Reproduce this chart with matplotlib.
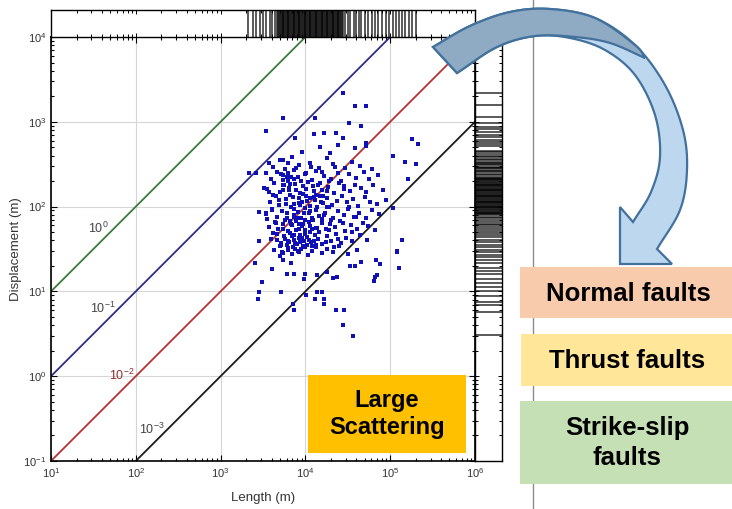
import numpy as np
import matplotlib
matplotlib.use('Agg')
import matplotlib.pyplot as plt
from matplotlib.patches import Rectangle, Polygon
from matplotlib.transforms import Affine2D

plt.rcParams['font.family'] = ['Liberation Sans', 'DejaVu Sans']
plt.rcParams['mathtext.default'] = 'regular'

# ---------------- data (log10 of length and displacement in m) ----------------
upper_outliers = [(4.44, 3.34), (4.58, 3.19), (4.72, 3.19), (3.73, 3.04), (4.11, 3.04), (3.53, 2.89),
                  (3.88, 2.81), (4.10, 2.86), (4.22, 2.87), (4.36, 2.87), (4.44, 2.81), (4.52, 2.99),
                  (4.65, 2.95), (4.72, 2.75), (5.26, 2.80), (5.33, 2.74), (5.03, 2.60), (5.17, 2.53),
                  (5.31, 2.50), (5.21, 2.33), (5.03, 1.98), (5.14, 1.61), (5.08, 1.48), (3.45, 1.94),
                  (3.45, 1.59), (3.33, 2.40), (3.42, 2.40), (3.53, 2.40), (3.57, 2.51), (3.73, 2.55),
                  (3.79, 2.51), (3.96, 2.64), (4.17, 2.70), (4.29, 2.63), (4.39, 2.73), (4.59, 2.69),
                  (4.71, 2.72)]
lower_outliers = [(3.41, 1.33), (3.61, 1.26), (3.49, 1.11), (3.45, 0.99), (3.44, 0.91), (3.71, 0.99),
                  (3.78, 1.21), (3.87, 1.21), (3.98, 1.15), (3.99, 1.21), (3.85, 0.85), (3.87, 0.78),
                  (4.01, 0.96), (4.11, 0.91), (4.14, 0.99), (4.20, 0.99), (4.22, 0.91), (4.22, 0.85),
                  (4.36, 0.78), (4.45, 0.78), (4.44, 0.60), (4.56, 0.47), (4.26, 1.23), (4.33, 1.16),
                  (4.37, 1.17), (4.53, 1.30), (4.59, 1.30), (4.65, 1.35), (4.81, 1.12), (4.82, 1.17),
                  (4.85, 1.19), (4.83, 1.37), (4.88, 1.32), (5.10, 1.28), (5.08, 1.47), (4.14, 1.19),
                  (3.83, 1.33), (3.73, 1.37), (3.70, 1.42)]
left_edge = [(3.51, 2.22), (3.57, 2.17), (3.62, 2.14), (3.53, 1.92), (3.55, 1.85), (3.61, 1.96),
             (3.65, 1.81), (3.62, 1.69), (3.67, 1.61), (3.71, 1.55)]
band_a = [(3.62, 2.47), (3.70, 2.55), (3.76, 2.44), (3.84, 2.58), (3.93, 2.49), (4.05, 2.52), (4.16, 2.46),
          (4.25, 2.57), (4.33, 2.50), (4.47, 2.45), (4.55, 2.53), (4.64, 2.48), (4.78, 2.44)]
band_b = [(3.60, 2.33), (3.66, 2.41), (3.74, 2.37), (3.79, 2.30), (3.86, 2.43), (3.91, 2.35), (3.99, 2.39),
          (4.08, 2.31), (4.13, 2.42), (4.22, 2.36), (4.30, 2.33), (4.38, 2.40), (4.42, 2.30), (4.51, 2.38),
          (4.60, 2.34), (4.69, 2.41), (4.75, 2.32), (4.86, 2.37)]
band_c = [(3.55, 2.21), (3.63, 2.28), (3.70, 2.17), (3.75, 2.25), (3.81, 2.19), (3.88, 2.27), (3.94, 2.16),
          (3.97, 2.24), (4.03, 2.29), (4.10, 2.18), (4.15, 2.26), (4.20, 2.20), (4.27, 2.23), (4.34, 2.16),
          (4.40, 2.28), (4.46, 2.21), (4.53, 2.18), (4.58, 2.26), (4.66, 2.22), (4.72, 2.17), (4.80, 2.25),
          (4.91, 2.20)]
band_d = [(3.58, 2.05), (3.65, 2.12), (3.69, 2.02), (3.77, 2.09), (3.82, 2.14), (3.86, 2.03), (3.92, 2.10),
          (3.96, 2.06), (4.01, 2.13), (4.06, 2.01), (4.11, 2.08), (4.17, 2.12), (4.21, 2.04), (4.26, 2.10),
          (4.31, 2.02), (4.37, 2.07), (4.43, 2.13), (4.49, 2.05), (4.56, 2.09), (4.62, 2.01), (4.70, 2.11),
          (4.76, 2.06), (4.84, 2.03), (4.95, 2.08)]
band_e = [(3.54, 1.91), (3.61, 1.97), (3.67, 1.88), (3.72, 1.95), (3.78, 1.86), (3.83, 1.99), (3.87, 1.90),
          (3.91, 1.94), (3.95, 1.87), (3.99, 1.98), (4.04, 1.92), (4.08, 1.86), (4.12, 1.96), (4.16, 1.89),
          (4.23, 1.93), (4.28, 1.99), (4.33, 1.87), (4.39, 1.95), (4.45, 1.90), (4.50, 1.97), (4.57, 1.88),
          (4.63, 1.93), (4.71, 1.86), (4.79, 1.96), (4.87, 1.91)]
band_f = [(3.57, 1.76), (3.64, 1.82), (3.68, 1.73), (3.73, 1.79), (3.76, 1.84), (3.80, 1.71), (3.84, 1.78),
          (3.89, 1.83), (3.93, 1.74), (3.97, 1.80), (4.00, 1.72), (4.05, 1.77), (4.09, 1.84), (4.14, 1.75),
          (4.19, 1.81), (4.24, 1.73), (4.29, 1.79), (4.35, 1.76), (4.41, 1.83), (4.47, 1.71), (4.54, 1.78),
          (4.61, 1.74), (4.68, 1.81), (4.74, 1.77), (4.82, 1.72)]
band_g = [(3.60, 1.62), (3.66, 1.68), (3.71, 1.57), (3.75, 1.65), (3.79, 1.59), (3.82, 1.69), (3.86, 1.61),
          (3.90, 1.56), (3.94, 1.66), (3.98, 1.60), (4.02, 1.64), (4.07, 1.58), (4.11, 1.67), (4.15, 1.62),
          (4.20, 1.56), (4.25, 1.65), (4.30, 1.60), (4.36, 1.68), (4.42, 1.57), (4.48, 1.63), (4.55, 1.59),
          (4.64, 1.66), (4.73, 1.61)]
band_h = [(3.63, 1.49), (3.70, 1.53), (3.74, 1.45), (3.79, 1.51), (3.84, 1.44), (3.88, 1.50), (3.93, 1.47),
          (3.97, 1.54), (4.03, 1.43), (4.08, 1.48), (4.13, 1.52), (4.19, 1.45), (4.26, 1.50), (4.32, 1.46),
          (4.40, 1.53), (4.50, 1.44), (4.61, 1.49)]
core = [(3.81, 1.58), (3.85, 1.52), (3.89, 1.72), (3.92, 1.63), (3.95, 1.50), (3.99, 1.68), (4.02, 1.55),
        (4.06, 1.70), (4.10, 1.60), (3.83, 1.80), (3.87, 1.66), (3.91, 1.48), (3.96, 1.77), (4.00, 1.52),
        (4.04, 1.82), (3.78, 1.55), (3.94, 1.58), (4.08, 1.53), (4.12, 1.75), (3.86, 1.88)]
core2 = [(3.72, 1.47), (3.76, 1.62), (3.80, 1.49), (3.84, 1.65), (3.88, 1.57), (3.92, 1.79), (3.96, 1.63),
         (4.00, 1.84), (4.04, 1.61), (4.08, 1.74), (4.12, 1.55), (4.16, 1.70), (4.20, 1.85), (4.24, 1.58),
         (4.28, 1.72), (3.74, 1.74), (3.78, 1.92), (3.82, 1.83), (3.86, 1.97), (3.90, 1.87), (3.94, 2.02),
         (3.98, 1.92), (4.02, 2.07), (4.06, 1.95), (4.10, 2.11), (4.14, 1.99), (4.18, 2.05), (4.22, 1.90),
         (4.26, 2.00), (4.30, 1.84), (3.69, 2.08), (3.73, 2.19), (3.77, 2.03), (3.81, 2.22), (3.85, 2.11),
         (3.89, 2.20), (3.93, 2.04), (3.97, 2.15), (4.01, 2.21), (4.05, 2.10), (4.09, 2.24), (4.13, 2.14),
         (4.17, 2.28), (4.21, 2.12), (4.25, 2.18), (3.83, 2.35), (3.89, 2.45), (3.95, 2.30), (4.01, 2.40),
         (4.07, 2.47), (4.19, 2.41), (4.35, 2.47), (4.28, 2.30), (4.45, 2.24), (4.52, 2.00), (4.60, 1.88),
         (4.44, 1.81), (4.38, 1.62), (4.55, 1.70), (4.34, 1.52)]
upper_cluster = [(3.71, 2.38), (3.74, 2.31), (3.78, 2.35), (3.82, 2.27), (3.86, 2.33), (3.73, 2.25), (3.80, 2.40)]

# marginal rug data (log10)
rug_log_length = [3.32, 3.38, 3.42, 3.47, 3.50, 3.54, 3.58, 3.61, 3.64, 3.66,
                  3.68, 3.70, 3.72, 3.73, 3.75, 3.77, 3.79, 3.80, 3.82, 3.84, 3.85, 3.87, 3.89, 3.91,
                  3.92, 3.94, 3.96, 3.97, 3.99, 4.01, 4.03, 4.04, 4.06, 4.08, 4.09, 4.11, 4.13, 4.15,
                  4.16, 4.18, 4.20, 4.21, 4.23, 4.25, 4.27, 4.28, 4.30, 4.32, 4.33, 4.35, 4.37, 4.39,
                  4.40, 4.42, 4.44, 3.69, 3.71, 3.74, 3.76, 3.78, 3.81, 3.83, 3.86, 3.88, 3.90, 3.93,
                  3.95, 3.98, 4.00, 4.02, 4.05, 4.07, 4.10, 4.12, 4.14, 4.17, 4.19, 4.22, 4.24, 4.26,
                  4.29, 4.31, 4.34, 4.36, 4.38, 4.41, 4.43, 4.47, 4.50, 4.53, 4.57, 4.60, 4.63, 4.66,
                  4.70, 4.74, 4.78, 4.82, 4.86, 4.90, 4.95, 4.99, 5.03, 5.07, 5.10, 5.14, 5.18, 5.22,
                  5.26, 5.31]
rug_log_displacement = [3.34, 3.20, 3.06, 2.99, 2.94, 2.92, 2.88, 2.85, 2.82, 2.79, 2.76, 2.74, 2.71,
                        2.66, 2.64, 2.62, 2.60, 2.58, 2.56, 2.53, 2.51, 2.49, 2.47, 2.45, 2.43, 2.41, 2.39,
                        2.35, 2.33, 2.32, 2.30, 2.28, 2.27, 2.25, 2.23, 2.22, 2.20, 2.18, 2.17, 2.15, 2.13,
                        2.12, 2.10, 2.08, 2.07, 2.05, 2.03, 2.02, 2.00, 1.98, 1.97, 1.95, 1.93, 1.92, 1.90,
                        1.88, 2.34, 2.31, 2.29, 2.26, 2.24, 2.21, 2.19, 2.16, 2.14, 2.11, 2.09, 2.06,
                        2.04, 2.01, 1.99, 1.96, 1.94, 1.91, 2.55, 2.50, 2.46, 2.42, 2.37,
                        1.86, 1.84, 1.82, 1.80, 1.78, 1.76, 1.73, 1.71, 1.69, 1.66, 1.64, 1.61,
                        1.58, 1.55, 1.52, 1.49, 1.46, 1.43, 1.40, 1.37,
                        1.33, 1.28, 1.24, 1.20, 1.15, 1.10, 1.05, 1.00, 0.95, 0.88, 0.84, 0.76, 0.49]

ratios = [1, 0.1, 0.01, 0.001]
ratio_labels = [r'$\mathdefault{10^{0}}$', r'$\mathdefault{10^{-1}}$', r'$\mathdefault{10^{-2}}$', r'$\mathdefault{10^{-3}}$']
ratio_colors = ['#3c7a3c', '#2c2c86', '#b83232', '#1a1a1a']
ratio_label_pos = [(36, 56), (41, 6.3), (69, 1.03), (155, 0.235)]
ratio_label_colors = ['#444444', '#444444', '#8a3030', '#444444']

xlim = (10, 1e6)
ylim = (0.1, 1e4)

groups = [upper_outliers, lower_outliers, left_edge, band_a, band_b, band_c, band_d,
          band_e, band_f, band_g, band_h, core, core2, upper_cluster]
pts = np.array([p for g in groups for p in g])
length = 10 ** pts[:, 0]
displacement = 10 ** pts[:, 1]

# ---------------- figure ----------------
W, H = 732, 509
fig = plt.figure(figsize=(W / 100, H / 100), dpi=100)
pix = Affine2D().scale(1 / W, -1 / H).translate(0, 1) + fig.transFigure

ax = fig.add_axes([51 / W, 1 - 461 / H, 424 / W, 424 / H])
axt = fig.add_axes([51 / W, 1 - 37 / H, 424 / W, 27 / H])
axr = fig.add_axes([475 / W, 1 - 461 / H, 27 / W, 424 / H])

ax.set_xscale('log'); ax.set_yscale('log')
ax.set_xlim(*xlim); ax.set_ylim(*ylim)
ax.grid(True, which='major', color='#d6d6d6', lw=0.8)
ax.set_axisbelow(True)

Ls = np.array(xlim)
for r, c in zip(ratios, ratio_colors):
    ax.plot(Ls, r * Ls, color=c, lw=1.3, zorder=2)
for lab, (lx, ly), c in zip(ratio_labels, ratio_label_pos, ratio_label_colors):
    ax.text(lx, ly, lab, color=c, fontsize=9, ha='center', va='center')

ax.scatter(length, displacement, marker='s', s=12, color='#1010b8', linewidths=0, zorder=3)

ax.tick_params(which='both', direction='in', top=True, right=True, colors='black',
               labelcolor='#333333', labelsize=8, width=0.8)
ax.tick_params(which='major', length=4)
ax.tick_params(which='minor', length=2)
for s in ax.spines.values():
    s.set_linewidth(1.2)
ax.set_xlabel('Length (m)', fontsize=9.5, color='#333333', labelpad=9)
ax.set_ylabel('Displacement (m)', fontsize=9.5, color='#333333', labelpad=1)

# top rug
axt.set_xscale('log'); axt.set_xlim(*xlim); axt.set_ylim(0, 1)
axt.vlines(10 ** np.array(rug_log_length), 0, 1, color='black', alpha=0.7, lw=1.3)
axt.tick_params(which='both', direction='in', top=True, bottom=True, labelbottom=False, left=False,
                labelleft=False, width=0.7)
axt.tick_params(which='major', length=3); axt.tick_params(which='minor', length=2)
axt.set_yticks([])

# right rug
axr.set_yscale('log'); axr.set_ylim(*ylim); axr.set_xlim(0, 1)
axr.hlines(10 ** np.array(rug_log_displacement), 0, 1, color='black', alpha=0.7, lw=1.3)
axr.tick_params(which='both', direction='in', left=True, right=True, labelleft=False, bottom=False,
                labelbottom=False, width=0.7)
axr.tick_params(which='major', length=3); axr.tick_params(which='minor', length=2)
axr.set_xticks([])
for a in (axt, axr):
    for s in a.spines.values():
        s.set_linewidth(1.0)

# ---------------- annotations ----------------
fig.add_artist(plt.Line2D([533, 533], [0, H], transform=pix, color='#8c8c8c', lw=1, zorder=0))

fig.add_artist(Rectangle((308, 375), 158, 78, transform=pix, facecolor='#FFC000', edgecolor='none', zorder=5))
fig.text(387, 414, 'Large\nScattering', transform=pix, ha='center', va='center', fontsize=17,
         fontweight='bold', zorder=6, linespacing=1.2)
fig.add_artist(Rectangle((520, 267), 214, 51, transform=pix, facecolor='#F8CBAD', edgecolor='none', zorder=5))
fig.text(628, 294, 'Normal faults', transform=pix, ha='center', va='center', fontsize=18.5,
         fontweight='bold', zorder=6)
fig.add_artist(Rectangle((521, 334), 213, 52, transform=pix, facecolor='#FFE699', edgecolor='none', zorder=5))
fig.text(627, 361, 'Thrust faults', transform=pix, ha='center', va='center', fontsize=18.5,
         fontweight='bold', zorder=6)
fig.add_artist(Rectangle((520, 401), 214, 83, transform=pix, facecolor='#C5E0B4', edgecolor='none', zorder=5))
fig.text(627, 443, 'Strike-slip\nfaults', transform=pix, ha='center', va='center', fontsize=18.5,
         fontweight='bold', zorder=6, linespacing=1.3)


def smooth(points, n=14):
    P = np.array(points, float)
    P = np.vstack([2 * P[0] - P[1], P, 2 * P[-1] - P[-2]])
    out = []
    for i in range(1, len(P) - 2):
        p0, p1, p2, p3 = P[i - 1], P[i], P[i + 1], P[i + 2]
        for t in np.linspace(0, 1, n, endpoint=False):
            out.append(0.5 * ((2 * p1) + (-p0 + p2) * t + (2 * p0 - 5 * p1 + 4 * p2 - p3) * t ** 2
                              + (-p0 + 3 * p1 - 3 * p2 + p3) * t ** 3))
    out.append(P[-2])
    return np.array(out)

outer = [(433, 47), (470, 26), (510, 12), (550, 9), (595, 18), (635, 45), (665, 85), (683, 130),
         (687, 170), (680, 210), (657, 249)]
inner = [(633, 222), (651, 192), (660, 157), (655, 115), (635, 75), (605, 50), (570, 38), (535, 36),
         (497, 47), (457, 73)]
head = [(672, 264), (620, 264), (620, 207)]
full = np.vstack([smooth(outer), np.array(head, float), smooth(inner)])
fig.add_artist(Polygon(full, closed=True, transform=pix, facecolor='#BDD7EE', edgecolor='#41719C',
                       lw=1.6, zorder=7))
dark_outer = smooth(outer[:6] + [(645, 58)])
dark_lower = smooth([(645, 58), (610, 43), (575, 37), (535, 36), (497, 47), (457, 73)])
dark = np.vstack([dark_outer, dark_lower[1:]])
fig.add_artist(Polygon(dark, closed=True, transform=pix, facecolor='#8FAAC3', edgecolor='#41719C',
                       lw=1.6, zorder=8))

fig.savefig('out.png', dpi=100)
